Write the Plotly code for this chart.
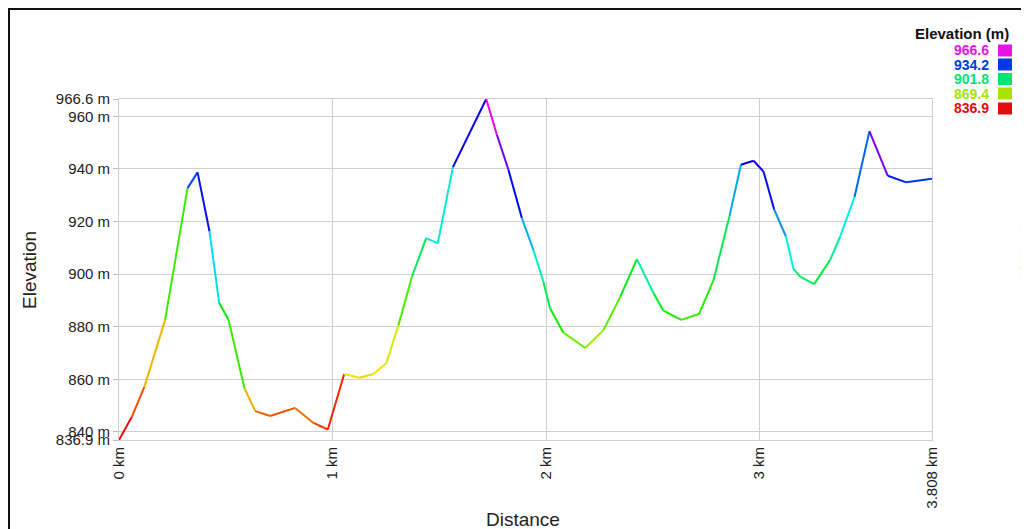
import plotly.graph_objects as go
from plotly.colors import sample_colorscale

# ---- data ----
distance_km = [0.000, 0.060, 0.119, 0.216, 0.321, 0.368, 0.424, 0.469, 0.513, 0.588,
               0.638, 0.708, 0.825, 0.911, 0.978, 1.055, 1.126, 1.192, 1.252, 1.309,
               1.372, 1.439, 1.493, 1.564, 1.720, 1.770, 1.824, 1.887, 1.941, 1.988,
               2.019, 2.081, 2.184, 2.269, 2.348, 2.426, 2.504, 2.550, 2.633, 2.717,
               2.785, 2.859, 2.913, 2.972, 3.019, 3.069, 3.124, 3.159, 3.191, 3.256,
               3.331, 3.378, 3.445, 3.515, 3.601, 3.687, 3.808]
elevation_m = [836.9, 845.7, 857.1, 882.6, 932.7, 938.7, 916.2, 889.1, 882.6, 856.5,
               847.9, 846.0, 849.1, 843.4, 840.9, 862.0, 860.6, 862.0, 866.1, 880.6,
               899.0, 913.7, 911.7, 940.7, 966.6, 953.0, 939.7, 921.3, 909.2, 897.1,
               887.0, 877.8, 871.9, 878.7, 891.4, 905.7, 892.7, 886.1, 882.6, 884.8,
               897.8, 921.9, 941.6, 943.1, 939.0, 924.5, 914.3, 902.0, 899.0, 896.2,
               905.4, 914.3, 929.3, 954.3, 937.4, 934.9, 936.3]

y_tick_vals = [836.9, 840, 860, 880, 900, 920, 940, 960, 966.6]
y_tick_text = ["836.9 m", "840 m", "860 m", "880 m", "900 m", "920 m", "940 m", "960 m", "966.6 m"]
x_tick_vals = [0, 1, 2, 3, 3.808]
x_tick_text = ["0 km", "1 km", "2 km", "3 km", "3.808 km"]
legend_values = [966.6, 934.2, 901.8, 869.4, 836.9]

E_MIN, E_MAX = 836.9, 966.6
# hue-wheel colour scale: red -> yellow -> green -> cyan -> blue -> magenta
colorscale = [[0.0, "rgb(237,0,0)"], [0.2, "rgb(237,237,0)"], [0.4, "rgb(0,237,0)"],
              [0.6, "rgb(0,237,237)"], [0.8, "rgb(0,0,237)"], [1.0, "rgb(237,0,237)"]]
legend_scale = [[0.0, "rgb(228,12,12)"], [0.2, "rgb(228,228,0)"], [0.4, "rgb(0,228,0)"],
                [0.6, "rgb(0,228,228)"], [0.8, "rgb(0,0,228)"], [1.0, "rgb(228,20,228)"]]


def frac(e):
    return min(max((e - E_MIN) / (E_MAX - E_MIN), 0.0), 1.0)


OFF = 8  # page body margin
W, H = 1029 - OFF, 529 - OFF
L, T = 119 - OFF, 99 - OFF
R = W - (932 - OFF)
B = H - (440 - OFF)
PW, PH = W - L - R, H - T - B


def px(x):
    return (x - OFF - L) / PW


def py(y):
    return 1 - (y - OFF - T) / PH


fig = go.Figure()
for i in range(len(distance_km) - 1):
    col = sample_colorscale(colorscale, [frac(elevation_m[i])])[0]
    fig.add_trace(go.Scatter(
        x=[distance_km[i], distance_km[i + 1]],
        y=[elevation_m[i], elevation_m[i + 1]],
        mode="lines", line=dict(color=col, width=2),
        hoverinfo="skip", showlegend=False))

font_main = "Liberation Sans, Arial, sans-serif"


def ann(text, x, y, size, color, xanchor="center", angle=0):
    return dict(text=text, x=px(x), y=py(y), xref="paper", yref="paper",
                xanchor=xanchor, yanchor="middle", showarrow=False, textangle=angle,
                font=dict(family=font_main, size=size, color=color))


annotations = [
    ann("Distance", 523, 519, 19, "#222"),
    ann("Elevation", 29, 270, 19, "#222", angle=-90),
    ann("<b>Elevation (m)</b>", 1011, 34, 15, "#111", xanchor="right"),
    ann("created by GPSVisualizer.com", 1025, 260, 11, "#888", angle=-90),
]
shapes = [
    dict(type="rect", xref="paper", yref="paper", x0=px(9), x1=px(1040), y0=py(9), y1=py(545),
         line=dict(color="#111", width=2), fillcolor="rgba(0,0,0,0)", layer="above"),
]
row_y = [50.5, 64.5, 79, 93.5, 108.5]
for v, yy in zip(legend_values, row_y):
    c = sample_colorscale(legend_scale, [frac(v)])[0]
    annotations.append(ann("<b>%.1f</b>" % v, 991, yy, 14, c, xanchor="right"))
    shapes.append(dict(type="rect", xref="paper", yref="paper",
                       x0=px(998), x1=px(1012), y0=py(yy - 6), y1=py(yy + 6),
                       line=dict(width=0), fillcolor=c))

fig.update_layout(
    width=W, height=H,
    margin=dict(l=L, r=R, t=T, b=B),
    paper_bgcolor="white", plot_bgcolor="white",
    showlegend=False,
    annotations=annotations,
    shapes=shapes,
    xaxis=dict(range=[0, 3.808], tickvals=x_tick_vals, ticktext=x_tick_text, tickangle=-90,
               showgrid=True, gridcolor="#cfcfcf", gridwidth=1, zeroline=False,
               showline=True, linecolor="#cfcfcf", linewidth=1, mirror=True, ticks="",
               tickfont=dict(family=font_main, size=15, color="#222")),
    yaxis=dict(range=[836.9, 966.6], tickvals=y_tick_vals, ticktext=y_tick_text,
               showgrid=True, gridcolor="#cfcfcf", gridwidth=1, zeroline=False,
               showline=True, linecolor="#cfcfcf", linewidth=1, mirror=True,
               ticks="outside", ticklen=5, tickcolor="#bbbbbb",
               tickfont=dict(family=font_main, size=15, color="#222")),
)

fig.write_html("out.html")
